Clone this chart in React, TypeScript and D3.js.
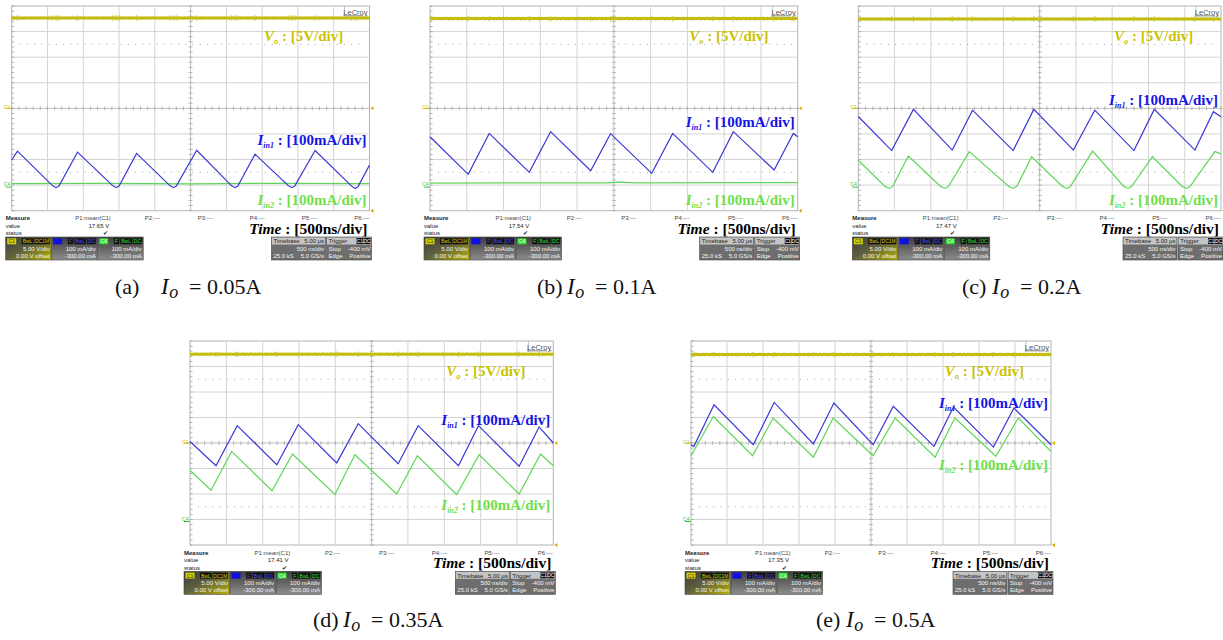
import React from 'react';
import * as d3 from 'd3';

// ---------- data ----------
// time in divisions (500 ns/div), current in mA (100 mA/div, offset -300 mA)
const panelLetters = ['a', 'b', 'c', 'd', 'e'];
const loadCurrents = ['0.05A', '0.1A', '0.2A', '0.35A', '0.5A'];
const voMeanV = [17.65, 17.54, 17.47, 17.41, 17.35];
const measureP = ['P1:mean(C1)', 'P2:---', 'P3:---', 'P4:---', 'P5:---', 'P6:---'];

const iin1A: [number, number][] = [[0, 98], [0.16, 133], [1.14, -2], [1.24, -10], [1.32, -4], [1.84, 129], [2.82, -2], [2.92, -10], [3.0, -4], [3.49, 124], [4.42, -2], [4.52, -10], [4.6, -4], [5.17, 136], [6.14, -2], [6.24, -10], [6.32, -4], [6.8, 121], [7.73, -2], [7.83, -10], [7.91, -4], [8.48, 135], [9.5, -4], [9.6, -13], [9.68, -6], [10, 78]];
const iin2A: [number, number][] = [[0, 6], [2.5, 7], [5, 5], [7.5, 7], [10, 6]];

const iin1B: [number, number][] = [[0, 189], [1.04, 42], [1.61, 202], [2.7, 50], [3.28, 209], [4.37, 56], [4.91, 201], [6.03, 46], [6.6, 202], [7.69, 50], [8.25, 209], [9.36, 59], [9.88, 202], [10, 189]];
const iin2B: [number, number][] = [[0, 8], [4.8, 9], [5.2, 12], [5.6, 9], [10, 10]];

const iin1C: [number, number][] = [[0, 268], [0.92, 135], [1.52, 296], [2.59, 137], [3.15, 293], [4.27, 135], [4.84, 296], [5.93, 137], [6.52, 293], [7.6, 135], [8.16, 296], [9.28, 137], [9.79, 287], [10, 267]];
const iin2C: [number, number][] = [[0, 97], [0.74, -5], [0.855, -13], [0.95, -5], [1.38, 114], [2.27, -5], [2.39, -13], [2.49, -5], [3.06, 131], [4.15, -5], [4.27, -13], [4.37, -5], [4.78, 111], [5.63, -5], [5.75, -13], [5.85, -5], [6.46, 133], [7.32, -5], [7.44, -13], [7.54, -5], [8.11, 111], [8.93, -5], [9.05, -13], [9.15, -5], [9.83, 131], [10, 122]];

const iin1D: [number, number][] = [[0, 306], [0.716, 211], [1.3, 368], [2.39, 215], [2.98, 372], [4.04, 222], [4.63, 376], [5.73, 219], [6.28, 368], [7.39, 211], [7.94, 368], [9.06, 209], [9.61, 363], [10, 300]];
const iin2D: [number, number][] = [[0, 193], [0.578, 115], [1.147, 267], [2.26, 113], [2.82, 257], [3.99, 98], [4.54, 254], [5.69, 100], [6.26, 250], [7.34, 98], [7.96, 254], [9.06, 100], [9.65, 257], [10, 211]];

const iin1E: [number, number][] = [[0, 293], [0.08, 287], [0.64, 450], [1.73, 293], [2.31, 459], [3.4, 296], [3.97, 457], [5.06, 293], [5.62, 444], [6.75, 287], [7.29, 441], [8.4, 284], [8.97, 437], [10, 293]];
const iin2E: [number, number][] = [[0, 250], [0.62, 404], [1.71, 250], [2.28, 398], [3.4, 244], [3.95, 398], [5.06, 250], [5.67, 398], [6.78, 244], [7.33, 398], [8.47, 248], [9.09, 398], [10, 267]];

const iin1All = [iin1A, iin1B, iin1C, iin1D, iin1E];
const iin2All = [iin2A, iin2B, iin2C, iin2D, iin2E];

// ---------- layout (positions / sizes) ----------
const layout = [
  { x0: 11.7, y0: 6, w: 357.8, h: 204.7, in1Y: 145, in2Y: 205, capX: 115, capY: 294, capGap: 16 },
  { x0: 430, y0: 6, w: 367.7, h: 204.7, in1Y: 126.7, in2Y: 205, capX: 537, capY: 294, capGap: 0 },
  { x0: 858.3, y0: 6, w: 362.7, h: 204.7, in1Y: 105, in2Y: 205, capX: 962, capY: 294, capGap: 0 },
  { x0: 190, y0: 341, w: 363.3, h: 204, in1Y: 425, in2Y: 510, capX: 313, capY: 627, capGap: 0 },
  { x0: 691, y0: 341, w: 360, h: 204, in1Y: 408, in2Y: 470, capX: 816, capY: 627, capGap: 0 },
];

const SERIF = '"Liberation Serif", "Times New Roman", serif';
const SANS = '"Liberation Sans", Arial, sans-serif';
const C_YEL = '#c2bb10';
const C_YEL_LBL = '#c9c300';
const C_BLUE = '#3838d4';
const C_BLUE_LBL = '#1414e6';
const C_GREEN = '#5fd65a';
const C_GREEN_LBL = '#6ee04c';
const GRID = '#d4d4d4';

function SmallTag({ x, y, w, text, bg, fg }: any) {
  return (
    <g>
      <rect x={x} y={y} width={w} height={6} fill={bg} />
      <text x={x + w / 2} y={y + 5} fontSize={5} fontFamily={SANS} fill={fg} textAnchor="middle">{text}</text>
    </g>
  );
}

function InfoBar({ L, vo }: any) {
  const { x0, y0, w, h } = L;
  const bx = x0 - 6;
  const bw = w + 8;
  const by = y0 + h;
  const fx = d3.scaleLinear().domain([0, 1]).range([bx, bx + bw]);
  const pFrac = [0.19, 0.38, 0.525, 0.667, 0.809, 0.953];
  const boxY = by + 26.3;
  const boxH = 23;
  const fs = 6;
  const chBoxes = [
    { x: bx, tag: 'C1', tagBg: '#d8d000', tagFg: '#333', grad: 'url(#gYel)', r1: '5.00 V/div', r2: '0.00 V offset', tags: ['BwL', 'DC1M'] },
    { x: bx + 46, tag: '', tagBg: '#1010e0', tagFg: '#fff', grad: 'url(#gGrey)', r1: '100 mA/div', r2: '-300.00 mA', tags: ['F', 'BwL', 'DC'] },
    { x: bx + 92, tag: 'C4', tagBg: '#30e030', tagFg: '#fff', grad: 'url(#gGrey)', r1: '100 mA/div', r2: '-300.00 mA', tags: ['F', 'BwL', 'DC'] },
  ];
  const tbX = bx + bw - 100;
  const trX = bx + bw - 45;
  return (
    <g fontFamily={SANS}>
      <text x={bx} y={by + 9.5} fontSize={fs} fontWeight="bold" fill="#222">Measure</text>
      <text x={bx} y={by + 17} fontSize={fs} fill="#222">value</text>
      <text x={bx} y={by + 24.5} fontSize={fs} fill="#222">status</text>
      {measureP.map((p, i) => (
        <text key={p} x={fx(pFrac[i])} y={by + 9.5} fontSize={fs} fill="#444">{p}</text>
      ))}
      <text x={fx(pFrac[0]) + 34} y={by + 17} fontSize={fs} fill="#222" textAnchor="end">{vo.toFixed(2)} V</text>
      <text x={fx(pFrac[0]) + 30} y={by + 24.5} fontSize={fs} fill="#222" textAnchor="middle">✔</text>
      {chBoxes.map((b, i) => (
        <g key={i}>
          <rect x={b.x} y={boxY} width={45.5} height={boxH} fill={b.grad} stroke="#444" strokeWidth={0.6} />
          <rect x={b.x + 1.5} y={boxY + 1.3} width={9} height={6} fill={b.tagBg} />
          <text x={b.x + 6} y={boxY + 6.3} fontSize={5.2} fill={b.tagFg} textAnchor="middle">{b.tag}</text>
          {b.tags.map((t, j) => {
            const tw = t.length * 3.3 + 2;
            let xr = b.x + 44;
            for (let k = b.tags.length - 1; k > j; k--) xr -= b.tags[k].length * 3.3 + 3;
            return <SmallTag key={j} x={xr - tw} y={boxY + 1.3} w={tw} text={t} bg="#111" fg={i === 0 ? '#d8d000' : (i === 2 ? '#30e030' : '#5050ff')} />;
          })}
          <text x={b.x + 44} y={boxY + 13.8} fontSize={6} fill="#f4f4f4" textAnchor="end">{b.r1}</text>
          <text x={b.x + 44} y={boxY + 21} fontSize={6} fill="#f4f4f4" textAnchor="end">{b.r2}</text>
        </g>
      ))}
      {/* timebase */}
      <rect x={tbX} y={boxY} width={54} height={boxH} fill="#6e6e6e" stroke="#444" strokeWidth={0.6} />
      <rect x={tbX + 0.5} y={boxY + 0.5} width={53} height={7} fill="#c4c4c4" />
      <text x={tbX + 2} y={boxY + 6.2} fontSize={6} fill="#222">Timebase</text>
      <text x={tbX + 52.5} y={boxY + 6.2} fontSize={6} fill="#222" textAnchor="end">5.00 µs</text>
      <text x={tbX + 52.5} y={boxY + 13.8} fontSize={6} fill="#f4f4f4" textAnchor="end">500 ns/div</text>
      <text x={tbX + 2} y={boxY + 21} fontSize={6} fill="#f4f4f4">25.0 kS</text>
      <text x={tbX + 52.5} y={boxY + 21} fontSize={6} fill="#f4f4f4" textAnchor="end">5.0 GS/s</text>
      {/* trigger */}
      <rect x={trX} y={boxY} width={45} height={boxH} fill="#6e6e6e" stroke="#444" strokeWidth={0.6} />
      <rect x={trX + 0.5} y={boxY + 0.5} width={44} height={7} fill="#c4c4c4" />
      <text x={trX + 2} y={boxY + 6.2} fontSize={6} fill="#222">Trigger</text>
      <SmallTag x={trX + 30} y={boxY + 1} w={6.5} text="C1" bg="#111" fg="#fff" />
      <SmallTag x={trX + 37} y={boxY + 1} w={7} text="DC" bg="#111" fg="#fff" />
      <text x={trX + 2} y={boxY + 13.8} fontSize={6} fill="#f4f4f4">Stop</text>
      <text x={trX + 44} y={boxY + 13.8} fontSize={6} fill="#f4f4f4" textAnchor="end">-400 mV</text>
      <text x={trX + 2} y={boxY + 21} fontSize={6} fill="#f4f4f4">Edge</text>
      <text x={trX + 44} y={boxY + 21} fontSize={6} fill="#f4f4f4" textAnchor="end">Positive</text>
    </g>
  );
}

function Scope({ idx }: { idx: number }) {
  const L = layout[idx];
  const { x0, y0, w, h } = L;
  const in1 = iin1All[idx];
  const in2 = iin2All[idx];
  const vo = voMeanV[idx];
  const x = d3.scaleLinear().domain([0, 10]).range([x0, x0 + w]);
  const yDiv = d3.scaleLinear().domain([-4, 4]).range([y0 + h, y0]);
  const yI = d3.scaleLinear().domain([-100, 700]).range([y0 + h, y0]);
  const yV = d3.scaleLinear().domain([-20, 20]).range([y0 + h, y0]);
  const line = d3.line<[number, number]>().x(d => x(d[0])).y(d => yI(d[1]));
  const gridX = d3.range(1, 10);
  const gridY = d3.range(-3, 4);
  const minorX = d3.range(0, 10.001, 0.2);
  const minorY = d3.range(-4, 4.001, 0.2);
  const yv = yV(vo);
  const spikes = in1.slice(1, -1).map(d => d[0]);
  const right = x0 + w;
  const bottom = y0 + h;
  const capI = L.capX + 30 + L.capGap;
  return (
    <g>
      <rect x={x0} y={y0} width={w} height={h} fill="#fff" stroke="#b4b4b4" strokeWidth={1} />
      {gridX.map(g => (
        <line key={'gx' + g} x1={x(g)} x2={x(g)} y1={y0} y2={bottom} stroke={g === 5 ? '#bdbdbd' : GRID} strokeWidth={1} />
      ))}
      {gridY.map(g => (
        <line key={'gy' + g} x1={x0} x2={right} y1={yDiv(g)} y2={yDiv(g)} stroke={g === 0 ? '#bdbdbd' : GRID} strokeWidth={1} />
      ))}
      {[2.5, -2.5].map(g => (
        <line key={'dt' + g} x1={x0 + 8} x2={right - 4} y1={yDiv(g)} y2={yDiv(g)} stroke="#a8a8a8" strokeWidth={1} strokeDasharray="1 6.2" />
      ))}
      {minorX.map(t => (
        <line key={'mx' + t} x1={x(t)} x2={x(t)} y1={yDiv(0) - 2} y2={yDiv(0) + 2} stroke="#a8a8a8" strokeWidth={0.8} />
      ))}
      {minorY.map(t => (
        <g key={'my' + t}>
          <line x1={x(5) - 2} x2={x(5) + 2} y1={yDiv(t)} y2={yDiv(t)} stroke="#a8a8a8" strokeWidth={0.8} />
          <line x1={x0} x2={x0 + 2.5} y1={yDiv(t)} y2={yDiv(t)} stroke="#a0a0a0" strokeWidth={0.8} />
        </g>
      ))}
      {/* LeCroy badge */}
      <line x1={right - 25} x2={right - 25} y1={y0} y2={y0 + 11} stroke="#b4b4b4" strokeWidth={0.8} />
      <text x={right - 2} y={y0 + 8.5} fontSize={7.5} fontFamily={SANS} fill="#555" textAnchor="end" textDecoration="underline">LeCroy</text>
      {/* channel markers */}
      <text x={x0 - 1.5} y={yDiv(0) + 1} fontSize={5} fontFamily={SANS} fill={C_YEL} textAnchor="end">C1</text>
      <line x1={x0 - 6} x2={x0} y1={yDiv(0)} y2={yDiv(0)} stroke={C_YEL} strokeWidth={1} />
      <text x={x0 - 1.5} y={yI(0) + 1} fontSize={5} fontFamily={SANS} fill="#40c040" textAnchor="end">C4</text>
      <line x1={x0 - 6} x2={x0} y1={yI(0) + 2} y2={yI(0) + 2} stroke="#40c040" strokeWidth={1} />
      <path d={`M${right + 1},${yDiv(0)} l3,-2 v4 z`} fill="#d8b000" />
      <path d={`M${right + 1},${bottom} l3,-2 v4 z`} fill="#d8a000" />
      {/* Vo trace */}
      <line x1={x0} x2={right} y1={yv} y2={yv} stroke={C_YEL} strokeWidth={3} />
      <line x1={x0} x2={right} y1={yv - 1.6} y2={yv - 1.6} stroke="#d4cf50" strokeWidth={0.8} strokeDasharray="1 3 2 2" />
      <line x1={x0} x2={right} y1={yv + 1.6} y2={yv + 1.6} stroke="#d4cf50" strokeWidth={0.8} strokeDasharray="2 2 1 4" />
      {spikes.map((t, i) => (
        <line key={'sp' + i} x1={x(t)} x2={x(t)} y1={yv - 2.8} y2={yv + 2.8} stroke="#c9c330" strokeWidth={0.9} />
      ))}
      {/* current traces */}
      <path d={line(in2) || ''} fill="none" stroke={C_GREEN} strokeWidth={1.2} />
      <path d={line(in1) || ''} fill="none" stroke={C_BLUE} strokeWidth={1.2} />
      {/* labels */}
      <text x={x0 + 0.705 * w} y={y0 + 35} fontFamily={SERIF} fontWeight="bold" fontSize={15} fill={C_YEL_LBL}>
        <tspan fontStyle="italic">V</tspan>
        <tspan fontStyle="italic" fontSize={8.5} dy={3}>o</tspan>
        <tspan dy={-3}> : [5V/div]</tspan>
      </text>
      <text x={right - 3} y={L.in1Y} fontFamily={SERIF} fontWeight="bold" fontSize={15} fill={C_BLUE_LBL} textAnchor="end">
        <tspan fontStyle="italic">I</tspan>
        <tspan fontStyle="italic" fontSize={8} dy={3}>in1</tspan>
        <tspan dy={-3}> : [100mA/div]</tspan>
      </text>
      <text x={right - 3} y={L.in2Y} fontFamily={SERIF} fontWeight="bold" fontSize={15} fill={C_GREEN_LBL} textAnchor="end">
        <tspan fontStyle="italic">I</tspan>
        <tspan fontStyle="italic" fontSize={8} dy={3}>in2</tspan>
        <tspan dy={-3}> : [100mA/div]</tspan>
      </text>
      <text x={right - 2} y={bottom + 23} fontFamily={SERIF} fontWeight="bold" fontSize={15.5} fill="#000" textAnchor="end">
        <tspan fontStyle="italic">Time</tspan>
        <tspan> : [500ns/div]</tspan>
      </text>
      <InfoBar L={L} vo={vo} />
      {/* caption */}
      <g fontFamily={SERIF} fontSize={22} fill="#111">
        <text x={L.capX} y={L.capY}>({panelLetters[idx]})</text>
        <text x={capI} y={L.capY}>
          <tspan fontStyle="italic" fontSize={23}>I</tspan>
          <tspan fontStyle="italic" fontSize={18} dy={4} dx={0.5}>o</tspan>
        </text>
        <text x={capI + 28} y={L.capY}>=</text>
        <text x={capI + 46} y={L.capY}>{loadCurrents[idx]}</text>
      </g>
    </g>
  );
}

export default function App() {
  return (
    <svg width={1223} height={640} style={{ position: 'absolute', left: 0, top: 0, background: '#fff' }}>
      <defs>
        <linearGradient id="gGrey" x1="0" y1="0" x2="0" y2="1">
          <stop offset="0" stopColor="#3c3c3c" />
          <stop offset="0.35" stopColor="#5a5a5a" />
          <stop offset="1" stopColor="#8c8c8c" />
        </linearGradient>
        <linearGradient id="gYel" x1="0" y1="0" x2="1" y2="1">
          <stop offset="0" stopColor="#3c3c3c" />
          <stop offset="0.45" stopColor="#5e5e40" />
          <stop offset="1" stopColor="#b8b000" />
        </linearGradient>
      </defs>
      <rect x={0} y={0} width={1223} height={640} fill="#fff" />
      {layout.map((_, i) => <Scope key={i} idx={i} />)}
    </svg>
  );
}
